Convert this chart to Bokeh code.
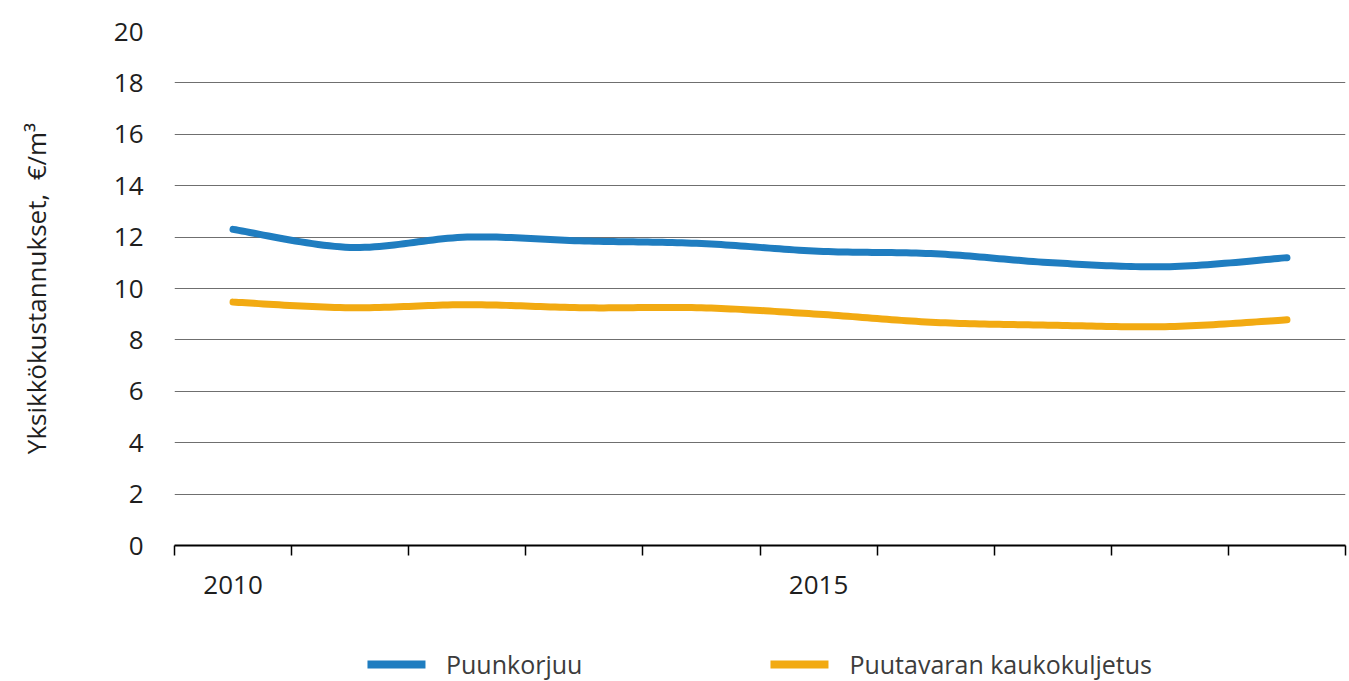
import numpy as np
from bokeh.plotting import figure
from bokeh.layouts import column
from bokeh.models import FixedTicker, Legend, LegendItem, Range1d
from bokeh.embed import file_html
from bokeh.resources import INLINE

# ---- data ----
years = [2010, 2011, 2012, 2013, 2014, 2015, 2016, 2017, 2018, 2019]
puunkorjuu = [12.3, 11.6, 12.0, 11.85, 11.75, 11.45, 11.35, 11.0, 10.85, 11.2]
kaukokuljetus = [9.47, 9.25, 9.37, 9.25, 9.25, 9.0, 8.68, 8.57, 8.52, 8.78]
series_names = ["Puunkorjuu", "Puutavaran kaukokuljetus"]
x_tick_labels = {0: "2010", 5: "2015"}
y_ticks = [0, 2, 4, 6, 8, 10, 12, 14, 16, 18, 20]
y_title = "Yksikkökustannukset,\u00a0 €/m³"

colors = ["#1f7dc0", "#f2aa12"]
FONT = "Open Sans"


def smooth(ys, n=24):
    """Catmull-Rom curve through (index, value) points, like a smoothed line."""
    pts = np.array([[i, v] for i, v in enumerate(ys)], dtype=float)
    ext = np.vstack([pts[0], pts, pts[-1]])
    out = []
    t = np.linspace(0, 1, n, endpoint=False)[:, None]
    for i in range(1, len(ext) - 2):
        p0, p1, p2, p3 = ext[i - 1], ext[i], ext[i + 1], ext[i + 2]
        seg = 0.5 * (2 * p1 + (-p0 + p2) * t + (2 * p0 - 5 * p1 + 4 * p2 - p3) * t ** 2
                     + (-p0 + 3 * p1 - 3 * p2 + p3) * t ** 3)
        out.append(seg)
    out.append(pts[-1][None, :])
    arr = np.vstack(out)
    return arr[:, 0], arr[:, 1]


x_range = Range1d(-0.5, len(years) - 0.5)

# ---- main chart ----
p = figure(width=1349, height=620, output_backend="svg", toolbar_location=None,
           x_range=x_range, y_range=Range1d(0, 20),
           min_border_left=174, min_border_right=4, min_border_top=31,
           min_border_bottom=75)
p.outline_line_color = None
p.background_fill_color = "white"
p.border_fill_color = "white"

for vals, col in zip([puunkorjuu, kaukokuljetus], colors):
    xs, ys = smooth(vals)
    p.line(xs, ys, line_width=7, line_color=col, line_cap="round", line_join="round")

# y axis
p.yaxis.ticker = FixedTicker(ticks=y_ticks)
p.yaxis.axis_line_color = None
p.yaxis.major_tick_line_color = None
p.yaxis.minor_tick_line_color = None
p.yaxis.major_label_standoff = 25
p.yaxis.major_label_text_font = FONT
p.yaxis.major_label_text_font_size = "26px"
p.yaxis.major_label_text_color = "#1e1e1e"
p.yaxis.axis_label = y_title
p.yaxis.axis_label_text_font = FONT
p.yaxis.axis_label_text_font_size = "26px"
p.yaxis.axis_label_text_font_style = "normal"
p.yaxis.axis_label_text_color = "#1e1e1e"
p.yaxis.axis_label_standoff = 57

p.ygrid.ticker = FixedTicker(ticks=y_ticks)
p.ygrid.grid_line_color = "#6f6f6f"
p.ygrid.grid_line_width = 1.2
p.xgrid.grid_line_color = None

# x axis
p.xaxis.ticker = FixedTicker(ticks=list(x_tick_labels.keys()),
                             minor_ticks=[i - 0.5 for i in range(len(years) + 1)])
p.xaxis.major_label_overrides = x_tick_labels
p.xaxis.major_tick_out = 0
p.xaxis.major_tick_in = 0
p.xaxis.major_tick_line_color = None
p.xaxis.minor_tick_out = 10
p.xaxis.minor_tick_in = 0
p.xaxis.minor_tick_line_color = "#000000"
p.xaxis.minor_tick_line_width = 1.5
p.xaxis.axis_line_color = "#000000"
p.xaxis.axis_line_width = 2
p.xaxis.major_label_standoff = 20
p.xaxis.major_label_text_font = FONT
p.xaxis.major_label_text_font_size = "26px"
p.xaxis.major_label_text_color = "#1e1e1e"

# ---- legend strip (same series, drawn outside its visible range) ----
q = figure(width=1349, height=61, output_backend="svg", toolbar_location=None,
           x_range=x_range, y_range=Range1d(100, 101),
           min_border_left=174, min_border_right=4, min_border_top=0,
           min_border_bottom=0)
q.outline_line_color = None
q.axis.visible = False
q.grid.visible = False
renderers = []
for vals, col in zip([puunkorjuu, kaukokuljetus], colors):
    xs, ys = smooth(vals)
    r = q.line(xs, ys, line_width=8, line_color=col, line_cap="round", line_join="round")
    renderers.append(r)

legend = Legend(items=[LegendItem(label=n, renderers=[r]) for n, r in zip(series_names, renderers)],
                orientation="horizontal", location="bottom_center",
                glyph_width=58, glyph_height=20, label_standoff=21, spacing=188,
                padding=0, margin=0, border_line_color=None, background_fill_alpha=0,
                label_text_font=FONT, label_text_font_size="25px", label_text_color="#3c3c3c")
q.add_layout(legend, "center")

layout = column(p, q, spacing=0)
open("out.html", "w").write(file_html(layout, INLINE))
